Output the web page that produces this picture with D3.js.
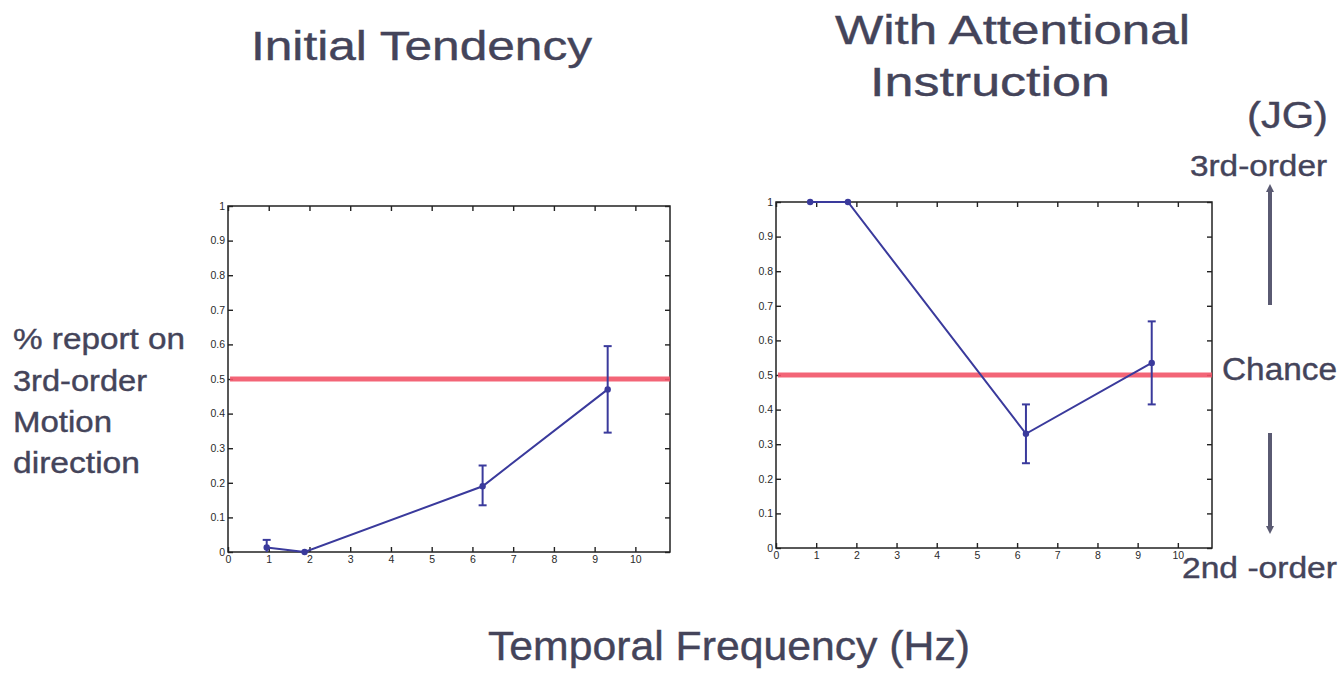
<!DOCTYPE html>
<meta charset="utf-8">
<head>
  <title>Initial Tendency vs With Attentional Instruction</title>
</head>

<style>
body {
  margin: 0;
  background: #fff;
  font-family: "Liberation Sans", Arial, Helvetica, sans-serif;
}
.label {
  fill: #44445a;
  stroke: #44445a;
  stroke-width: 0.4px;
}
.tick text {
  font-size: 10.5px;
  fill: #2a2a2a;
}
</style>

<body>
  <svg width="1344" height="676"></svg>

  <script src="https://cdnjs.cloudflare.com/ajax/libs/d3/7.8.5/d3.min.js"></script>

  <script>
  // data
  var xTicks = [0, 1, 2, 3, 4, 5, 6, 7, 8, 9, 10];
  var yTicks = [0, 0.1, 0.2, 0.3, 0.4, 0.5, 0.6, 0.7, 0.8, 0.9, 1];
  var chance = 0.5;

  var initialFreq = [0.95, 1.88, 6.25, 9.32];
  var initialMean = [0.013, 0.0, 0.19, 0.47];
  var initialLow  = [0.0, 0.0, 0.135, 0.345];
  var initialHigh = [0.035, 0.0, 0.25, 0.595];

  var attnFreq = [0.85, 1.79, 6.22, 9.35];
  var attnMean = [1.0, 1.0, 0.33, 0.535];
  var attnLow  = [1.0, 1.0, 0.245, 0.415];
  var attnHigh = [1.0, 1.0, 0.415, 0.655];

  var svg = d3.select('svg');
  var lineColor = '#3a3a9c';

  var panels = [
    { freq: initialFreq, mean: initialMean, low: initialLow, high: initialHigh,
      left: 228, right: 670, top: 206, bottom: 552 },
    { freq: attnFreq, mean: attnMean, low: attnLow, high: attnHigh,
      left: 776, right: 1212, top: 202, bottom: 548 }
  ];

  function drawPanel(p) {
    var x = d3.scaleLinear().domain([0, 10.85]).range([p.left, p.right]);
    var y = d3.scaleLinear().domain([0, 1]).range([p.bottom, p.top]);
    var g = svg.append('g');

    // frame
    g.append('rect')
      .attr('x', p.left).attr('y', p.top)
      .attr('width', p.right - p.left).attr('height', p.bottom - p.top)
      .attr('fill', 'none').attr('stroke', '#222').attr('stroke-width', 1.5);

    // MATLAB style inward ticks
    g.append('g')
      .attr('transform', 'translate(0,' + p.bottom + ')')
      .call(d3.axisBottom(x).tickValues(xTicks).tickSizeInner(-5).tickSizeOuter(0).tickPadding(4))
      .call(function(a) { a.select('.domain').remove(); });
    g.append('g')
      .attr('transform', 'translate(0,' + p.top + ')')
      .call(d3.axisTop(x).tickValues(xTicks).tickSizeInner(-5).tickSizeOuter(0).tickFormat(''))
      .call(function(a) { a.select('.domain').remove(); });
    g.append('g')
      .attr('transform', 'translate(' + p.left + ',0)')
      .call(d3.axisLeft(y).tickValues(yTicks).tickSizeInner(-5).tickSizeOuter(0).tickPadding(3)
        .tickFormat(function(d) { return d3.format('~g')(d); }))
      .call(function(a) { a.select('.domain').remove(); });
    g.append('g')
      .attr('transform', 'translate(' + p.right + ',0)')
      .call(d3.axisRight(y).tickValues(yTicks).tickSizeInner(-5).tickSizeOuter(0).tickFormat(''))
      .call(function(a) { a.select('.domain').remove(); });

    g.selectAll('.tick line').attr('stroke', '#222').attr('stroke-width', 1.4);

    // chance line
    g.append('line')
      .attr('x1', x(0.05)).attr('x2', x(10.85))
      .attr('y1', y(chance)).attr('y2', y(chance))
      .attr('stroke', '#f25468').attr('stroke-width', 5)
      .attr('stroke-opacity', 0.9);

    var pts = p.freq.map(function(f, i) {
      return { f: f, m: p.mean[i], lo: p.low[i], hi: p.high[i] };
    });

    // error bars
    var eb = g.selectAll('g.err')
      .data(pts.filter(function(d) { return d.hi > d.lo; }))
      .enter().append('g').attr('class', 'err')
      .attr('stroke', lineColor).attr('stroke-width', 2);
    eb.append('line')
      .attr('x1', function(d) { return x(d.f); }).attr('x2', function(d) { return x(d.f); })
      .attr('y1', function(d) { return y(d.lo); }).attr('y2', function(d) { return y(d.hi); });
    eb.append('line')
      .attr('x1', function(d) { return x(d.f) - 4; }).attr('x2', function(d) { return x(d.f) + 4; })
      .attr('y1', function(d) { return y(d.hi); }).attr('y2', function(d) { return y(d.hi); });
    eb.filter(function(d) { return d.lo > 0; }).append('line')
      .attr('x1', function(d) { return x(d.f) - 4; }).attr('x2', function(d) { return x(d.f) + 4; })
      .attr('y1', function(d) { return y(d.lo); }).attr('y2', function(d) { return y(d.lo); });

    g.append('path')
      .datum(pts)
      .attr('fill', 'none')
      .attr('stroke', lineColor)
      .attr('stroke-width', 2)
      .attr('d', d3.line().x(function(d) { return x(d.f); }).y(function(d) { return y(d.m); }));

    g.selectAll('circle')
      .data(pts)
      .enter().append('circle')
      .attr('cx', function(d) { return x(d.f); })
      .attr('cy', function(d) { return y(d.m); })
      .attr('r', 3.2)
      .attr('fill', lineColor);
  }

  panels.forEach(drawPanel);

  // text labels: [text, x, baseline, width, font size]
  var labels = [
    ['Initial Tendency', 251, 60, 341, 40],
    ['With Attentional', 835, 44, 355, 41],
    ['Instruction', 870, 96, 240, 41],
    ['(JG)', 1247, 128, 81, 36],
    ['3rd-order', 1190, 176, 137, 30],
    ['Chance', 1222, 380, 115, 31],
    ['2nd -order', 1182, 578, 155, 30],
    ['% report on', 13, 349, 172, 30],
    ['3rd-order', 13, 391, 134, 30],
    ['Motion', 13, 432, 99, 30],
    ['direction', 13, 473, 127, 30],
    ['Temporal Frequency (Hz)', 488, 660, 482, 41]
  ];

  svg.selectAll('text.label')
    .data(labels)
    .enter().append('text')
    .attr('class', 'label')
    .attr('x', function(d) { return d[1]; })
    .attr('y', function(d) { return d[2]; })
    .attr('textLength', function(d) { return d[3]; })
    .attr('lengthAdjust', 'spacingAndGlyphs')
    .style('font-size', function(d) { return d[4] + 'px'; })
    .text(function(d) { return d[0]; });

  // direction arrows
  var defs = svg.append('defs');
  defs.append('marker')
    .attr('id', 'head')
    .attr('viewBox', '0 0 10 10')
    .attr('refX', 5).attr('refY', 5)
    .attr('markerWidth', 2).attr('markerHeight', 2.2)
    .attr('orient', 'auto')
    .append('path')
    .attr('d', 'M0,0 L10,5 L0,10 Z')
    .attr('fill', '#5a5a72');

  var arrows = [[305, 188], [433, 530]];
  svg.selectAll('line.arrow')
    .data(arrows)
    .enter().append('line')
    .attr('class', 'arrow')
    .attr('x1', 1270).attr('x2', 1270)
    .attr('y1', function(d) { return d[0]; })
    .attr('y2', function(d) { return d[1]; })
    .attr('stroke', '#5a5a72')
    .attr('stroke-width', 4)
    .attr('marker-end', 'url(#head)');
  </script>
</body>
</html>
